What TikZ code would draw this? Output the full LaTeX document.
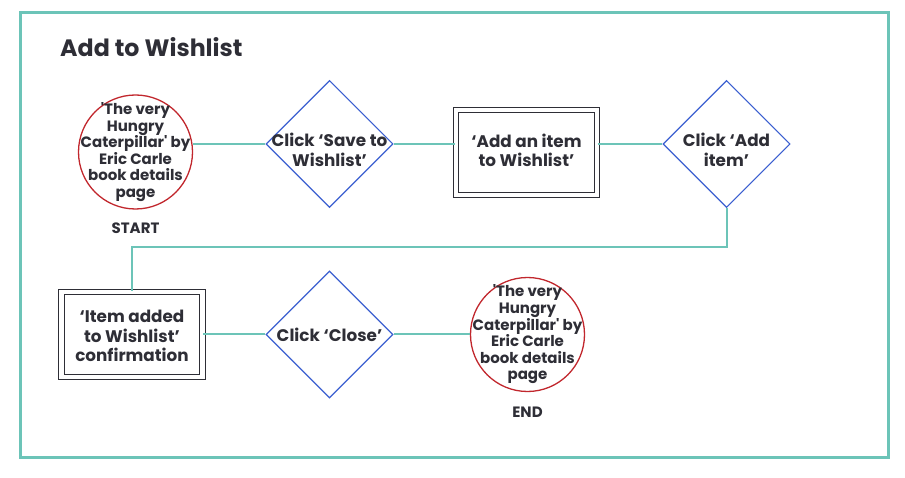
\documentclass[tikz,border=0pt]{standalone}
\usepackage{fontspec}
\setmainfont{Poppins}
\usepackage{xcolor}
\usetikzlibrary{shapes.geometric}

\definecolor{frameteal}{HTML}{6CC4B8}
\definecolor{choiceblue}{HTML}{3B5FD0}
\definecolor{pagered}{HTML}{C1272D}
\definecolor{inkgray}{HTML}{2E2E36}

\tikzset{
  txt/.style={text=inkgray, font=\bfseries\fontsize{15}{16.6}\selectfont, align=center, inner sep=0pt},
  bigtxt/.style={txt, font=\bfseries\fontsize{16.8}{19.5}\selectfont},
  page/.style={circle, draw=pagered, line width=1.3pt, minimum size=114pt, inner sep=0pt},
  choice/.style={diamond, draw=choiceblue, line width=1.1pt, minimum size=127pt, inner sep=0pt},
  screen/.style={rectangle, draw=inkgray, double, double distance=4.2pt, line width=1.2pt,
    minimum width=141pt, minimum height=85pt, inner sep=0pt},
  link/.style={draw=frameteal, line width=2pt}
}

\begin{document}
\begin{tikzpicture}[x=1pt, y=-1pt]
    \useasboundingbox (0,0) rectangle (905,478);
    \draw[frameteal, line width=3pt] (20,13) rectangle (888,457);
    \node[txt, anchor=base west, font=\bfseries\fontsize{23.7}{26}\selectfont] (title) at (60,57) {Add to Wishlist};

    % first row
    \node[page] (start) at (135.5,152) {};
    \node[txt] (starttext) at (start) {\textquotesingle The very\\Hungry\\Caterpillar\textquotesingle{} by\\Eric Carle\\book details\\page};
    \node[txt] (startlabel) at (135.5,228) {START};
    \node[choice] (save) at (329.5,144) {};
    \node[bigtxt, yshift=-6pt] (savetext) at (save) {Click ‘Save to\\Wishlist’};
    \node[screen] (add) at (526.5,152.5) {};
    \node[bigtxt] (addtext) at (526.5,150.5) {‘Add an item\\to Wishlist’};
    \node[choice] (want) at (726.5,144) {};
    \node[bigtxt, yshift=-6pt] (wanttext) at (want) {Click ‘Add\\item’};

    % second row
    \node[screen] (added) at (132,334.5) {};
    \node[bigtxt] (addedtext) at (132,336) {‘Item added\\to Wishlist’\\confirmation};
    \node[choice] (close) at (329.5,334.5) {};
    \node[bigtxt] (closetext) at (close) {Click ‘Close’};
    \node[page] (finish) at (527.5,334.5) {};
    \node[txt] (finishtext) at (finish) {\textquotesingle The very\\Hungry\\Caterpillar\textquotesingle{} by\\Eric Carle\\book details\\page};
    \node[txt] (finishlabel) at (527.5,412) {END};

    \draw[link] (save.west) -- (save.west -| start.east);
    \draw[link] (save.east) -- (save.east -| add.west);
    \draw[link] (want.west -| add.east) -- (want.west);
    \draw[link] (want.south) -- ++(0,39) -| (added.north);
    \draw[link] (added.east) -- (close.west);
    \draw[link] (close.east) -- (finish.west);
  \end{tikzpicture}
\end{document}
